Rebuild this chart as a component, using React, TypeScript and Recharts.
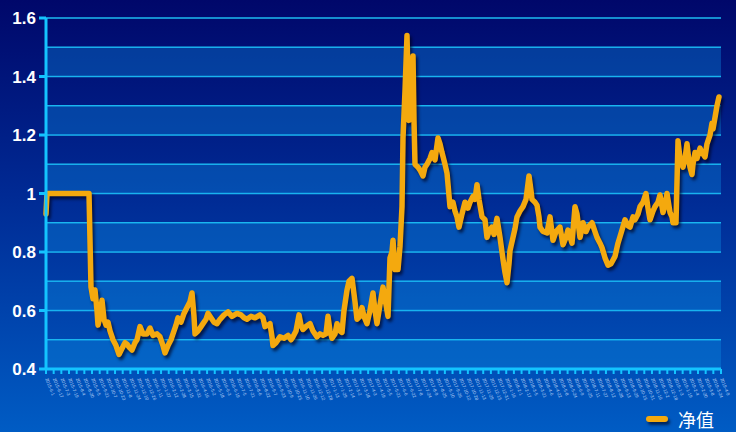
import { LineChart, Line, XAxis, YAxis, CartesianGrid, ReferenceArea } from 'recharts';

// trading-day position (from chart start) and net value
const days = [
  0, 1, 43, 45, 47, 49, 51, 52, 54, 56, 58, 60, 62, 64, 67, 70, 73, 76, 79, 81, 83, 86, 89, 91, 94, 97,
  101, 104, 107, 111, 114, 117, 119, 122, 125, 127, 130, 132, 135, 138, 141, 144, 146, 148, 149, 152,
  155, 157, 160, 162, 165, 168, 171, 174, 178, 182, 186, 191, 195, 198, 201, 205, 209, 214, 217, 219,
  222, 224, 226, 227, 230, 234, 238, 242, 245, 247, 250, 253, 255, 257, 260, 264, 267, 271, 274, 277,
  280, 282, 284, 286, 289, 291, 294, 296, 298, 301, 303, 306, 309, 311, 314, 316, 318, 321, 324, 327,
  329, 331, 334, 337, 339, 342, 344, 346, 347, 349, 352, 354, 356, 357, 359, 361, 363, 365, 367, 368,
  369, 372, 374, 377, 379, 381, 384, 386, 389, 392, 394, 396, 399, 401, 404, 407, 409, 411, 413, 416,
  419, 422, 424, 427, 429, 431, 433, 436, 439, 441, 443, 446, 448, 451, 454, 456, 457, 459, 461, 463,
  464, 467, 469, 471, 474, 477, 480, 483, 485, 486, 489, 491, 493, 494, 497, 501, 504, 507, 510, 514,
  517, 520, 522, 526, 529, 531, 534, 537, 540, 542, 546, 549, 551, 554, 556, 559, 562, 565, 569, 572,
  576, 579, 582, 584, 587, 589, 592, 594, 597, 600, 602, 604, 607, 609, 612, 614, 617, 619, 621, 624,
  626, 627, 630, 632, 634, 637, 639, 641, 643, 644, 646, 647, 649, 651, 654, 656, 659, 661, 664, 666,
  667, 669, 671, 673, 674,
];

const nav = [
  0.93, 1.0, 1.0, 0.68, 0.64, 0.67, 0.6, 0.55, 0.58, 0.635, 0.57, 0.55, 0.56, 0.53, 0.5, 0.48, 0.45, 0.47,
  0.49, 0.485, 0.475, 0.465, 0.49, 0.5, 0.545, 0.52, 0.52, 0.54, 0.515, 0.52, 0.51, 0.48, 0.455, 0.48,
  0.5, 0.52, 0.55, 0.575, 0.56, 0.59, 0.61, 0.63, 0.66, 0.58, 0.52, 0.53, 0.545, 0.555, 0.57, 0.59,
  0.575, 0.56, 0.555, 0.57, 0.585, 0.595, 0.58, 0.59, 0.585, 0.575, 0.57, 0.58, 0.575, 0.585, 0.575,
  0.545, 0.55, 0.555, 0.51, 0.48, 0.49, 0.51, 0.505, 0.515, 0.5, 0.51, 0.53, 0.585, 0.55, 0.535, 0.545,
  0.555, 0.53, 0.51, 0.52, 0.515, 0.52, 0.58, 0.53, 0.505, 0.52, 0.555, 0.53, 0.525, 0.6, 0.67, 0.7,
  0.71, 0.63, 0.57, 0.58, 0.61, 0.58, 0.555, 0.6, 0.66, 0.6, 0.555, 0.62, 0.68, 0.64, 0.58, 0.78, 0.8,
  0.84, 0.74, 0.74, 0.82, 0.955, 1.19, 1.35, 1.54, 1.25, 1.3, 1.47, 1.25, 1.1, 1.09, 1.08, 1.06, 1.09,
  1.1, 1.12, 1.14, 1.115, 1.19, 1.17, 1.14, 1.1, 1.07, 0.955, 0.97, 0.94, 0.92, 0.885, 0.93, 0.97, 0.95,
  0.97, 0.99, 0.98, 1.03, 0.98, 0.92, 0.91, 0.85, 0.87, 0.885, 0.86, 0.915, 0.85, 0.8, 0.775, 0.73,
  0.695, 0.76, 0.805, 0.85, 0.88, 0.92, 0.94, 0.955, 0.98, 1.06, 1.01, 0.98, 0.97, 0.96, 0.92, 0.885,
  0.87, 0.865, 0.92, 0.84, 0.87, 0.885, 0.825, 0.85, 0.875, 0.83, 0.955, 0.93, 0.85, 0.9, 0.87, 0.885,
  0.9, 0.87, 0.85, 0.83, 0.815, 0.78, 0.755, 0.76, 0.785, 0.83, 0.875, 0.91, 0.89, 0.885, 0.92, 0.91,
  0.93, 0.955, 0.97, 1.0, 0.95, 0.91, 0.94, 0.955, 0.97, 0.995, 0.935, 0.96, 1.0, 0.935, 0.92, 0.9, 0.9,
  1.18, 1.12, 1.09, 1.12, 1.17, 1.11, 1.09, 1.065, 1.1, 1.14, 1.12, 1.155, 1.14, 1.125, 1.17, 1.2, 1.24,
  1.22, 1.26, 1.3, 1.33,
];

const yTicks = [0.4, 0.6, 0.8, 1, 1.2, 1.4, 1.6];
const gridValues = [0.4, 0.5, 0.6, 0.7, 0.8, 0.9, 1.0, 1.1, 1.2, 1.3, 1.4, 1.5, 1.6];
const lightBands = [[1.4, 1.5], [1.2, 1.3], [1.0, 1.1], [0.8, 0.9], [0.6, 0.7], [0.4, 0.5]];

// 89 date ticks along the bottom (labels too small to read in the reference)
const tickCount = 89;
const firstTickDate = '2015-06-01';
const tickDays = Array.from({ length: tickCount }, (_, i) => (i * 675) / (tickCount - 1));
const tickLabels = tickDays.map((_, i) => {
  const d = new Date(firstTickDate);
  d.setDate(d.getDate() + i * 16);
  return `${d.getFullYear()}-${d.getMonth() + 1}-${d.getDate()}`;
});

const data = days.map((day, i) => ({ day, nav: nav[i] }));

function DateTick({ x, y, index }: any) {
  return (
    <g transform={`translate(${x + 1},${y + 2})`}>
      <text transform="rotate(68)" fontSize={4.6} fill="#b4cff5" fontFamily="Liberation Sans" dy={2}>
        {tickLabels[index]}
      </text>
    </g>
  );
}

export default function App() {
  return (
    <div
      style={{
        position: 'absolute',
        left: 0,
        top: 0,
        width: 736,
        height: 432,
        background: 'linear-gradient(to bottom, #00076a 0%, #002a94 45%, #005cc4 100%)',
        overflow: 'hidden',
      }}
    >
      <style>{`.navLine { filter: drop-shadow(2px 3px 1.5px rgba(0, 0, 25, 0.65)); }`}</style>
      <LineChart width={736} height={432} data={data} margin={{ top: 18, right: 15, left: 0, bottom: 13 }}>
        {lightBands.map(([lo, hi]) => (
          <ReferenceArea key={lo} y1={lo} y2={hi} fill="#0a8ee4" fillOpacity={0.36} stroke="none" />
        ))}
        <CartesianGrid
          vertical={false}
          horizontalValues={gridValues}
          stroke="#1cbcf2"
          strokeWidth={1.6}
        />
        <XAxis
          dataKey="day"
          type="number"
          domain={[0, 675]}
          ticks={tickDays}
          interval={0}
          height={50}
          tickSize={5}
          axisLine={{ stroke: '#14c4ff', strokeWidth: 3 }}
          tickLine={{ stroke: '#14c4ff', strokeWidth: 2 }}
          tick={<DateTick />}
        />
        <YAxis
          domain={[0.4, 1.6]}
          ticks={yTicks}
          width={46}
          tickSize={7}
          tickMargin={3}
          axisLine={{ stroke: '#14c4ff', strokeWidth: 3 }}
          tickLine={{ stroke: '#14c4ff', strokeWidth: 3 }}
          tick={{ fill: '#ffffff', fontSize: 17, fontWeight: 'bold', fontFamily: 'Liberation Sans' }}
        />
        <Line
          className="navLine"
          dataKey="nav"
          type="linear"
          stroke="#f4a90e"
          strokeWidth={5.5}
          strokeLinejoin="round"
          strokeLinecap="round"
          dot={false}
          activeDot={false}
          isAnimationActive={false}
        />
      </LineChart>
      <div
        style={{
          position: 'absolute',
          left: 646,
          top: 405,
          display: 'flex',
          alignItems: 'center',
          gap: 10,
        }}
      >
        <div
          style={{
            width: 22,
            height: 6,
            borderRadius: 3,
            background: '#f4a90e',
            boxShadow: '2px 3px 3px rgba(0,0,25,0.6)',
          }}
        />
        <span style={{ color: '#ffffff', fontSize: 18, fontFamily: 'Noto Sans CJK SC', lineHeight: '28px' }}>净值</span>
      </div>
    </div>
  );
}
